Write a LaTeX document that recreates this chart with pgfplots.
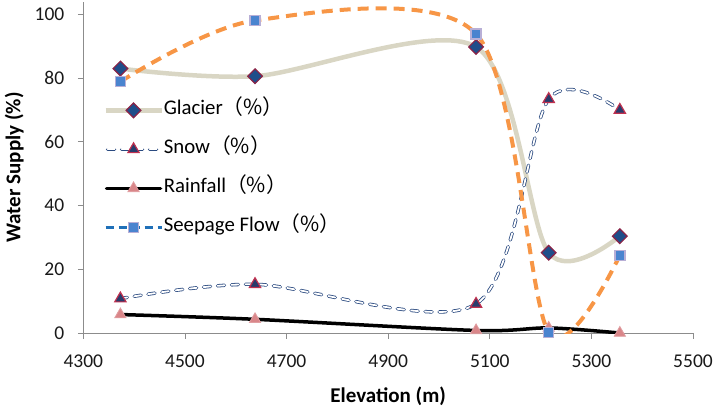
\documentclass[border=0pt]{standalone}
\usepackage{fontspec}
\setmainfont{Carlito}
\newfontfamily\cjk{Noto Sans CJK SC}
\usepackage{pgfplots}
\pgfplotsset{compat=1.18}
\definecolor{glacierline}{HTML}{D9D6C4}
\definecolor{gdfill}{HTML}{1F4E8A}
\definecolor{gdborder}{HTML}{8A2347}
\definecolor{snowblue}{HTML}{2A4A80}
\definecolor{snowtri}{HTML}{283C6C}
\definecolor{snowtriborder}{HTML}{C0304F}
\definecolor{raintri}{HTML}{D98689}
\definecolor{seeporange}{HTML}{F79646}
\definecolor{seepsq}{HTML}{4A84CF}
\definecolor{seepborder}{HTML}{B8AFD6}
\definecolor{seeplegend}{HTML}{1F70B8}
\definecolor{axgray}{HTML}{8C8C8C}
\newcommand{\tfont}{\fontsize{19.5}{22}\selectfont}
\newcommand{\lfont}{\fontsize{21}{24}\selectfont}
\newcommand{\gfont}{\fontsize{20.8}{24}\selectfont}
\pgfplotsset{
  glacierstyle/.style={mark=square*, mark size=5.2pt, mark options={rotate=45, fill=gdfill, draw=gdborder, line width=1.2pt}},
  snowstyle/.style={mark=triangle*, mark size=6.5pt, mark options={fill=snowtri, draw=snowtriborder, line width=1.2pt}},
  rainstyle/.style={mark=triangle*, mark size=6.5pt, mark options={fill=raintri, draw=raintri!80!white, line width=0.8pt}},
  seepstyle/.style={mark=square*, mark size=5pt, mark options={fill=seepsq, draw=seepborder, line width=1.5pt}},
  glacierlegend/.style={legend image code/.code={
    \draw[glacierline, line width=4.5pt] (0pt,0pt) -- (56pt,0pt);
    \draw[only marks, mark=square*, mark size=5.2pt, mark options={rotate=45, fill=gdfill, draw=gdborder, line width=1.2pt}] plot coordinates {(28pt,0pt)};}},
  snowlegend/.style={legend image code/.code={
    \draw[draw=snowblue, line width=0.8pt, double=white, double distance=1.8pt, dash pattern=on 7pt off 7pt, line cap=round] (2pt,0pt) -- (56pt,0pt);
    \draw[only marks, mark=triangle*, mark size=6.5pt, mark options={fill=snowtri, draw=snowtriborder, line width=1.2pt}] plot coordinates {(28pt,0pt)};}},
  rainlegend/.style={legend image code/.code={
    \draw[black, line width=3.5pt, line cap=round] (1pt,0pt) -- (55pt,0pt);
    \draw[only marks, mark=triangle*, mark size=6.5pt, mark options={fill=raintri, draw=raintri!80!white, line width=0.8pt}] plot coordinates {(28pt,0pt)};}},
  seeplegend/.style={legend image code/.code={
    \draw[seeplegend, line width=3.5pt, dash pattern=on 8pt off 5pt] (0pt,0pt) -- (56pt,0pt);
    \draw[only marks, mark=square*, mark size=5pt, mark options={fill=seepsq, draw=seepborder, line width=1.5pt}] plot coordinates {(28pt,0pt)};}},
}
\begin{document}
\begin{tikzpicture}
\begin{axis}[
  name=ax,
  at={(0pt,0pt)}, anchor=south west,
  scale only axis, width=609.7pt, height=331pt,
  xmin=4300, xmax=5500, ymin=0, ymax=103.9,
  xtick={4300,4500,...,5500}, ytick={0,20,...,100},
  axis x line*=bottom, axis y line*=left,
  axis line style={draw=axgray, line width=0.8pt},
  tick style={draw=axgray, line width=0.8pt},
  tick align=outside, major tick length=5.5pt,
  /pgf/number format/assume math mode=true,
  /pgf/number format/1000 sep={},
  ticklabel style={font=\tfont, text=black!90},
  x tick label style={yshift=-13pt},
  y tick label style={xshift=-10pt},
  xlabel={Elevation (m)},
  ylabel={Water Supply (\%)},
  label style={font=\bfseries\lfont},
  xlabel style={yshift=-12pt},
  ylabel style={yshift=4pt},
  legend style={draw=none, fill=none, at={(axis cs:4339,73.4)}, anchor=north west, font=\gfont, row sep=17pt, inner sep=0pt,
    nodes={inner sep=0pt, text height=15pt, text depth=7pt}},
  legend cell align=left,
]
% lines
\addplot[glacierline, line width=4.5pt, smooth, forget plot] coordinates {(4373,83.0) (4638,80.6) (5073,89.8) (5216,25.2) (5356,30.4)};
\addplot[draw=snowblue, line width=0.8pt, double=white, double distance=1.8pt, dash pattern=on 7pt off 7pt, line cap=round, smooth, forget plot] coordinates {(4373,10.8) (4638,15.3) (5073,9.1) (5216,73.4) (5356,70.0)};
\addplot[black, line width=3.5pt, smooth, forget plot] coordinates {(4373,5.8) (4638,4.3) (5073,0.8) (5216,1.6) (5356,0.0)};
\addplot[seeporange, line width=4pt, dash pattern=on 11pt off 7pt, smooth, forget plot] coordinates {(4373,78.9) (4638,98.1) (5073,93.9) (5216,0.2) (5356,24.4)};
% marks
\addplot[only marks, glacierstyle, glacierlegend] coordinates {(4373,83.0) (4638,80.6) (5073,89.8) (5216,25.2) (5356,30.4)};
\addlegendentry{Glacier{\cjk （\%）}}
\addplot[only marks, snowstyle, snowlegend] coordinates {(4373,10.8) (4638,15.3) (5073,9.1) (5216,73.4) (5356,70.0)};
\addlegendentry{Snow{\cjk （\%）}}
\addplot[only marks, rainstyle, rainlegend, clip=false] coordinates {(4373,5.8) (4638,4.3) (5073,0.8) (5216,1.6) (5356,0.0)};
\addlegendentry{Rainfall{\cjk （\%）}}
\addplot[only marks, seepstyle, seeplegend, clip=false] coordinates {(4373,78.9) (4638,98.1) (5073,93.9) (5216,0.2) (5356,24.4)};
\addlegendentry{Seepage Flow{\cjk （\%）}}
\end{axis}
\pgfresetboundingbox
\path (-83.3pt,-75pt) rectangle (635.7pt,333pt);
\end{tikzpicture}
\end{document}
